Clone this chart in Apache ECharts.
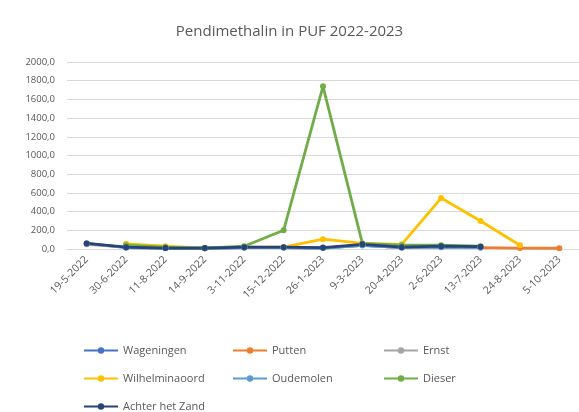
<!DOCTYPE html>
<html>
<head>
<meta charset="utf-8">
<script src="https://cdn.jsdelivr.net/npm/echarts@6/dist/echarts.min.js"></script>
<style>
  html, body { margin: 0; padding: 0; background: #fff; }
  #show_picture { width: 579px; height: 412px; }
</style>
</head>
<body>
<div id="show_picture"></div>
<script>
const dates = ['19-5-2022', '30-6-2022', '11-8-2022', '14-9-2022', '3-11-2022', '15-12-2022',
    '26-1-2023', '9-3-2023', '20-4-2023', '2-6-2023', '13-7-2023', '24-8-2023', '5-10-2023'];

const wageningen     = [60, 15, 10, 8, 15, 15, 10, 40, 15, 25, 20, null, null];
const putten         = [null, null, null, null, null, null, null, null, null, null, 15, 10, 8];
const ernst          = [50, 20, 10, 8, 15, 15, 10, 40, 15, 20, 15, null, null];
const wilhelminaoord = [null, 55, 30, 10, 20, 20, 105, 60, 50, 545, 300, 40, null];
const oudemolen      = [null, 15, 10, 8, 15, 15, 10, 40, 15, 20, 15, null, null];
const dieser         = [null, 40, 20, 10, 30, 200, 1740, 60, 40, 40, 30, null, null];
const achterHetZand  = [60, 20, 10, 10, 20, 20, 15, 50, 20, 30, 25, null, null];

const yMin = 0, yMax = 2000, yStep = 200;

let myChart = echarts.init(document.getElementById('show_picture'));

function line(name, data, color) {
    return {
        name: name,
        type: 'line',
        data: data,
        symbol: 'circle',
        symbolSize: 6,
        lineStyle: { width: 2.8, color: color },
        itemStyle: { color: color },
        connectNulls: false
    };
}

// one legend per entry so the Excel-like 3-column layout is kept
function leg(name, left, top) {
    return {
        left: left, top: top,
        data: [name],
        itemWidth: 34,
        itemHeight: 8,
        textStyle: { color: '#595959', fontSize: 11, fontFamily: 'Open Sans' }
    };
}

let option = {
    animation: false,
    title: {
        text: 'Pendimethalin in PUF 2022-2023',
        left: 'center',
        top: 19,
        textStyle: { color: '#595959', fontWeight: 'normal', fontSize: 15, fontFamily: 'Open Sans' }
    },
    grid: { left: 67, right: 0, top: 62, bottom: 163 },
    legend: [
        leg('Wageningen', 78, 340),
        leg('Putten', 227, 340),
        leg('Ernst', 378, 340),
        leg('Wilhelminaoord', 78, 368),
        leg('Oudemolen', 227, 368),
        leg('Dieser', 378, 368),
        leg('Achter het Zand', 78, 396)
    ],
    xAxis: {
        type: 'category',
        data: dates,
        boundaryGap: true,
        axisLine: { lineStyle: { color: '#d9d9d9' } },
        axisTick: { show: false },
        axisLabel: { interval: 0, rotate: 45, color: '#595959', fontSize: 10.5, fontFamily: 'Open Sans', margin: 9 }
    },
    yAxis: {
        type: 'value',
        min: yMin,
        max: yMax,
        interval: yStep,
        axisLine: { show: false },
        axisTick: { show: false },
        splitLine: { lineStyle: { color: '#d9d9d9' } },
        axisLabel: {
            color: '#595959', fontSize: 9.5, fontFamily: 'Open Sans', margin: 12,
            formatter: v => v.toFixed(1).replace('.', ',')
        }
    },
    series: [
        line('Wageningen', wageningen, '#4472C4'),
        line('Putten', putten, '#ED7D31'),
        line('Ernst', ernst, '#A5A5A5'),
        line('Wilhelminaoord', wilhelminaoord, '#FFC000'),
        line('Oudemolen', oudemolen, '#5B9BD5'),
        line('Dieser', dieser, '#70AD47'),
        line('Achter het Zand', achterHetZand, '#264478')
    ]
};

option && myChart.setOption(option);
</script>
</body>
</html>
